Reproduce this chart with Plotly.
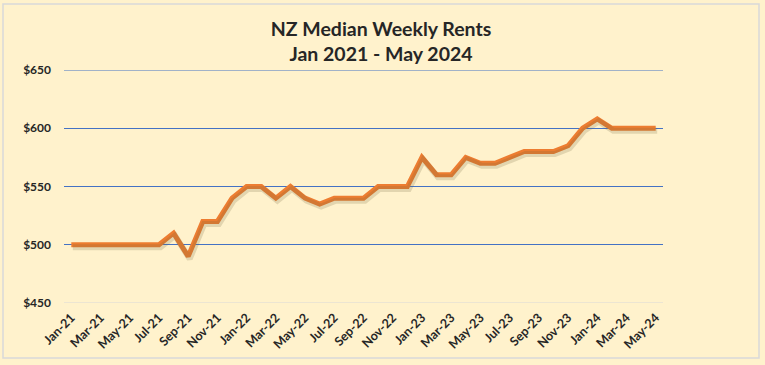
import plotly.graph_objects as go

months = ["Jan-21","Feb-21","Mar-21","Apr-21","May-21","Jun-21","Jul-21","Aug-21","Sep-21","Oct-21","Nov-21","Dec-21",
          "Jan-22","Feb-22","Mar-22","Apr-22","May-22","Jun-22","Jul-22","Aug-22","Sep-22","Oct-22","Nov-22","Dec-22",
          "Jan-23","Feb-23","Mar-23","Apr-23","May-23","Jun-23","Jul-23","Aug-23","Sep-23","Oct-23","Nov-23","Dec-23",
          "Jan-24","Feb-24","Mar-24","Apr-24","May-24"]
rents = [500,500,500,500,500,500,500,510,490,520,520,540,
         550,550,540,550,540,535,540,540,540,550,550,550,
         575,560,560,575,570,570,575,580,580,580,585,600,
         608,600,600,600,600]
y_ticks = [450, 500, 550, 600, 650]
y_tick_labels = ["$450", "$500", "$550", "$600", "$650"]

W, H = 765, 365
ML, MR, MT, MB = 64, 102, 70, 62
PW, PH = W - ML - MR, H - MT - MB

x_idx = list(range(len(months)))
x_tickvals = x_idx[::2]
x_ticktext = ["<b>%s</b>" % m for m in months[::2]]
y_ticktext = ["<b>%s</b>" % t for t in y_tick_labels]

FONT = "Lato"
TXT = "#262626"
BG = "#FFF2CC"

fig = go.Figure()
# soft shadow, drawn through a slightly shifted copy of the axes
fig.add_trace(go.Scatter(x=x_idx, y=rents, mode="lines", xaxis="x2", yaxis="y2",
                         line=dict(color="rgba(110,100,60,0.2)", width=6),
                         hoverinfo="skip", showlegend=False))
fig.add_trace(go.Scatter(x=x_idx, y=rents, mode="lines",
                         line=dict(color="#ED7D31", width=5),
                         showlegend=False))

xr = [-0.5, len(months) - 0.5]
yr = [450, 650]
dx = 1.5 * (xr[1] - xr[0]) / PW
dy = 2.5 * (yr[1] - yr[0]) / PH

fig.update_layout(
    width=W, height=H,
    margin=dict(l=ML, r=MR, t=MT, b=MB),
    paper_bgcolor=BG, plot_bgcolor=BG,
    font=dict(family=FONT, color=TXT),
    title=dict(text="<b>NZ Median Weekly Rents</b><br><b>Jan 2021 - May 2024</b>",
               x=381 / W, xref="container", xanchor="center",
               y=1 - 36 / H, yref="container", yanchor="top",
               font=dict(family=FONT, size=19.5, color=TXT)),
    xaxis=dict(range=xr, tickmode="array", tickvals=x_tickvals, ticktext=x_ticktext,
               tickangle=-45, tickfont=dict(family=FONT, size=12.5, color=TXT),
               showgrid=False, zeroline=False, showline=False, ticks="",
               ticklabelstandoff=4),
    yaxis=dict(range=yr, tickmode="array", tickvals=y_ticks, ticktext=y_ticktext,
               tickfont=dict(family=FONT, size=12, color=TXT),
               showgrid=True, gridcolor="#4472C4", gridwidth=1,
               zeroline=False, showline=False, ticks="", ticklabelstandoff=12),
    xaxis2=dict(range=[xr[0] - dx, xr[1] - dx], overlaying="x", visible=False),
    yaxis2=dict(range=[yr[0] + dy, yr[1] + dy], overlaying="y", visible=False),
    shapes=[
        dict(type="line", xref="paper", yref="y", x0=0, x1=1, y0=450, y1=450,
             line=dict(color="#D9D9D9", width=1), layer="below"),
        dict(type="line", xref="paper", yref="y", x0=0, x1=1, y0=650, y1=650,
             line=dict(color="#4472C4", width=1), layer="below"),
        dict(type="rect", xref="paper", yref="paper",
             x0=(3 - ML) / PW, x1=(759 - ML) / PW,
             y0=(H - MB - 358) / PH, y1=(H - MB - 4) / PH,
             line=dict(color="#D9D9D9", width=1.5), fillcolor="rgba(0,0,0,0)"),
    ],
)

fig.write_html("out.html", config={"displayModeBar": False},
               post_script="document.body.style.margin='0';document.body.style.background='%s';" % BG)
